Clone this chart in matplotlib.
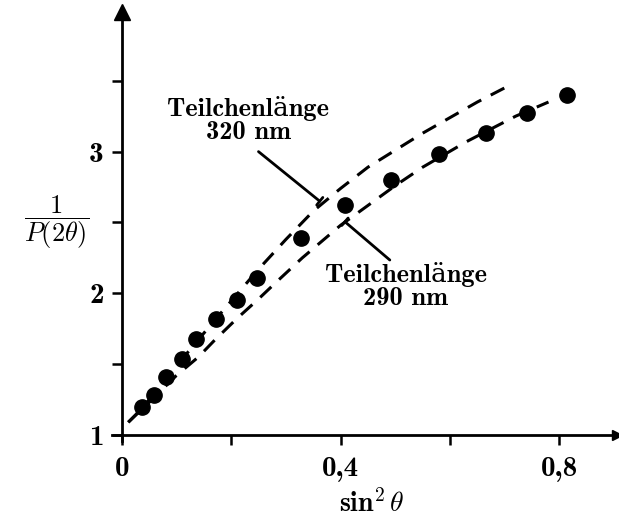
#Teilchenlaenge plot: 1/P(2theta) vs sin^2 theta with two model curves
import matplotlib
matplotlib.use('Agg')
import matplotlib.pyplot as plt

x_pts = [0.037, 0.059, 0.081, 0.111, 0.136, 0.173, 0.210, 0.248, 0.327, 0.409, 0.492, 0.580, 0.665, 0.740, 0.814]
y_pts = [1.20, 1.28, 1.41, 1.54, 1.68, 1.82, 1.95, 2.11, 2.39, 2.62, 2.80, 2.98, 3.13, 3.27, 3.40]

#Curve for 320 nm particles
x_320 = [0.012, 0.04, 0.08, 0.12, 0.17, 0.21, 0.25, 0.30, 0.35, 0.40, 0.45, 0.50, 0.55, 0.60, 0.65, 0.70]
y_320 = [1.09, 1.20, 1.39, 1.58, 1.81, 1.99, 2.17, 2.38, 2.58, 2.74, 2.89, 3.01, 3.13, 3.24, 3.35, 3.45]

#Curve for 290 nm particles
x_290 = [0.012, 0.05, 0.10, 0.14, 0.17, 0.21, 0.25, 0.28, 0.33, 0.40, 0.45, 0.50, 0.55, 0.63, 0.72, 0.78]
y_290 = [1.09, 1.23, 1.42, 1.55, 1.67, 1.82, 1.96, 2.07, 2.25, 2.48, 2.62, 2.76, 2.89, 3.07, 3.25, 3.35]

xticks = [0, 0.2, 0.4, 0.6, 0.8]
xticklabels = ['0', '', '0,4', '', '0,8']
yticks = [1, 1.5, 2, 2.5, 3, 3.5]
yticklabels = ['1', '', '2', '', '3', '']

plt.rcParams['font.family'] = ['cmb10', 'DejaVu Serif']
plt.rcParams['mathtext.fontset'] = 'cm'
plt.rcParams['axes.formatter.use_mathtext'] = True

fig = plt.figure(figsize=(6.19, 5.19), dpi=100)
ax = fig.add_axes([0.1966, 0.1618, 0.800, 0.815])

#curves and points
ax.plot(x_320, y_320, color='black', lw=2.2, linestyle=(0, (5, 3.5)), clip_on=False)
ax.plot(x_290, y_290, color='black', lw=2.2, linestyle=(0, (5, 3.5)), clip_on=False)
ax.plot(x_pts, y_pts, 'o', color='black', markersize=11, clip_on=False)

ax.set_xlim(0, 0.905)
ax.set_ylim(1, 3.985)

for s in ['top', 'right']:
    ax.spines[s].set_visible(False)
for s in ['left', 'bottom']:
    ax.spines[s].set_linewidth(2)
ax.spines['bottom'].set_bounds(-0.018, 0.905)
ax.spines['left'].set_bounds(0.96, 3.985)

#arrow heads
ax.plot(1, 0, '>', color='black', markersize=7, transform=ax.transAxes, clip_on=False)
ax.plot(0, 1, '^', color='black', markersize=11, transform=ax.transAxes, clip_on=False)

ax.set_xticks(xticks)
ax.set_xticklabels(xticklabels)
ax.set_yticks(yticks)
ax.set_yticklabels(yticklabels)
ax.tick_params(axis='both', direction='out', length=7, width=1.8, labelsize=21)
ax.tick_params(axis='x', pad=8)
ax.tick_params(axis='y', pad=6)

#annotations
ax.text(0.231, 3.223, 'Teilchenlänge\n320 nm', ha='center', va='center',
        fontsize=19, linespacing=1.0)
ax.annotate('', xy=(0.362, 2.65), xytext=(0.250, 3.0),
            arrowprops=dict(arrowstyle='-[, widthB=0.35, lengthB=0', lw=2, color='black',
                            shrinkA=0, shrinkB=0))
ax.text(0.519, 2.05, 'Teilchenlänge\n290 nm', ha='center', va='center',
        fontsize=19, linespacing=1.0)
ax.annotate('', xy=(0.408, 2.505), xytext=(0.490, 2.235),
            arrowprops=dict(arrowstyle='-[, widthB=0.35, lengthB=0', lw=2, color='black',
                            shrinkA=0, shrinkB=0))

#axis labels
fig.text(57/619, 1 - 222/519, r'$\dfrac{\mathbf{1}}{P(\mathbf{2}\theta)}$', ha='center', va='center', fontsize=19)
fig.text(372/619, 1 - 504/519, r'$\mathbf{sin}^\mathbf{2}\,\theta$', ha='center', va='center', fontsize=20)

fig.savefig('out.png', dpi=100)
